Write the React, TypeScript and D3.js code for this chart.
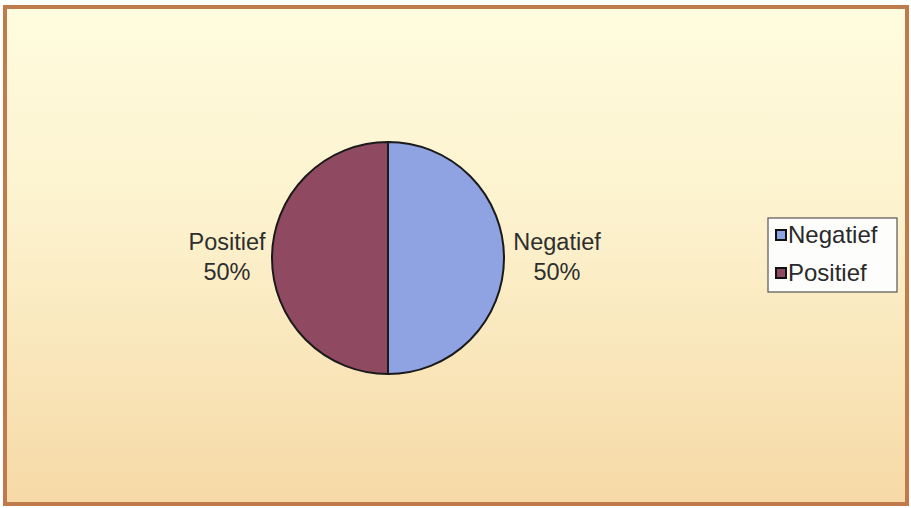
import React from 'react'
import * as d3 from 'd3'

const categories = ['Negatief', 'Positief']
const values = [50, 50]
const percentLabels = ['50%', '50%']
const colors = ['#8fa2e2', '#8f4a61']

type Slice = { name: string, value: number, pct: string, color: string }

export default function App() {
    const width = 911
    const height = 508
    const cx = 388
    const cy = 258
    const radius = 116

    const slices: Slice[] = categories.map((c, i) => ({ name: c, value: values[i], pct: percentLabels[i], color: colors[i] }))

    const pie = d3.pie<Slice>().value(d => d.value).sort(null)
    const arcs = pie(slices)
    const arc = d3.arc<d3.PieArcDatum<Slice>>().innerRadius(0).outerRadius(radius)
    // labels sit outside the pie
    const labelArc = d3.arc<d3.PieArcDatum<Slice>>().innerRadius(166).outerRadius(166)

    const legendY = d3.scalePoint<string>().domain(categories).range([235, 273])

    return (
        <svg width={width} height={height} style={{ position: 'absolute', left: 0, top: 0 }}
            fontFamily="'Liberation Sans', Arial, sans-serif">
            <defs>
                <linearGradient id="bg" x1="0" y1="0" x2="0" y2="1">
                    <stop offset="0" stopColor="#fffcdf" />
                    <stop offset="0.45" stopColor="#fcf1cc" />
                    <stop offset="1" stopColor="#f6d9a6" />
                </linearGradient>
            </defs>
            <rect x={0} y={0} width={width} height={height} fill="#fff" />
            <rect x={5} y={7} width={902} height={497} fill="url(#bg)" stroke="#bf7b4c" strokeWidth={4} />

            <g transform={`translate(${cx},${cy})`}>
                {arcs.map((a, i) => (
                    <path key={i} d={arc(a) ?? ''} fill={a.data.color} stroke="#1a1a1a" strokeWidth={2} />
                ))}
                {arcs.map((a, i) => {
                    const [lx, ly] = labelArc.centroid(a)
                    const dx = lx > 0 ? 3 : 5
                    return (
                        <text key={'l' + i} x={lx + dx} y={ly} textAnchor="middle" fontSize={23.5} fill="#2e2e2e">
                            <tspan x={lx + dx} dy={-8}>{a.data.name}</tspan>
                            <tspan x={lx + dx} dy={30}>{a.data.pct}</tspan>
                        </text>
                    )
                })}
            </g>

            <rect x={768} y={218} width={129} height={74} fill="#fdfdfb" stroke="#555" strokeWidth={1.2} />
            {slices.map(s => (
                <g key={s.name} transform={`translate(776,${legendY(s.name)})`}>
                    <rect x={0} y={-5} width={10} height={10} fill={s.color} stroke="#111" strokeWidth={2} />
                    <text x={12} y={8} fontSize={24} fill="#2a2a2a">{s.name}</text>
                </g>
            ))}
        </svg>
    )
}
